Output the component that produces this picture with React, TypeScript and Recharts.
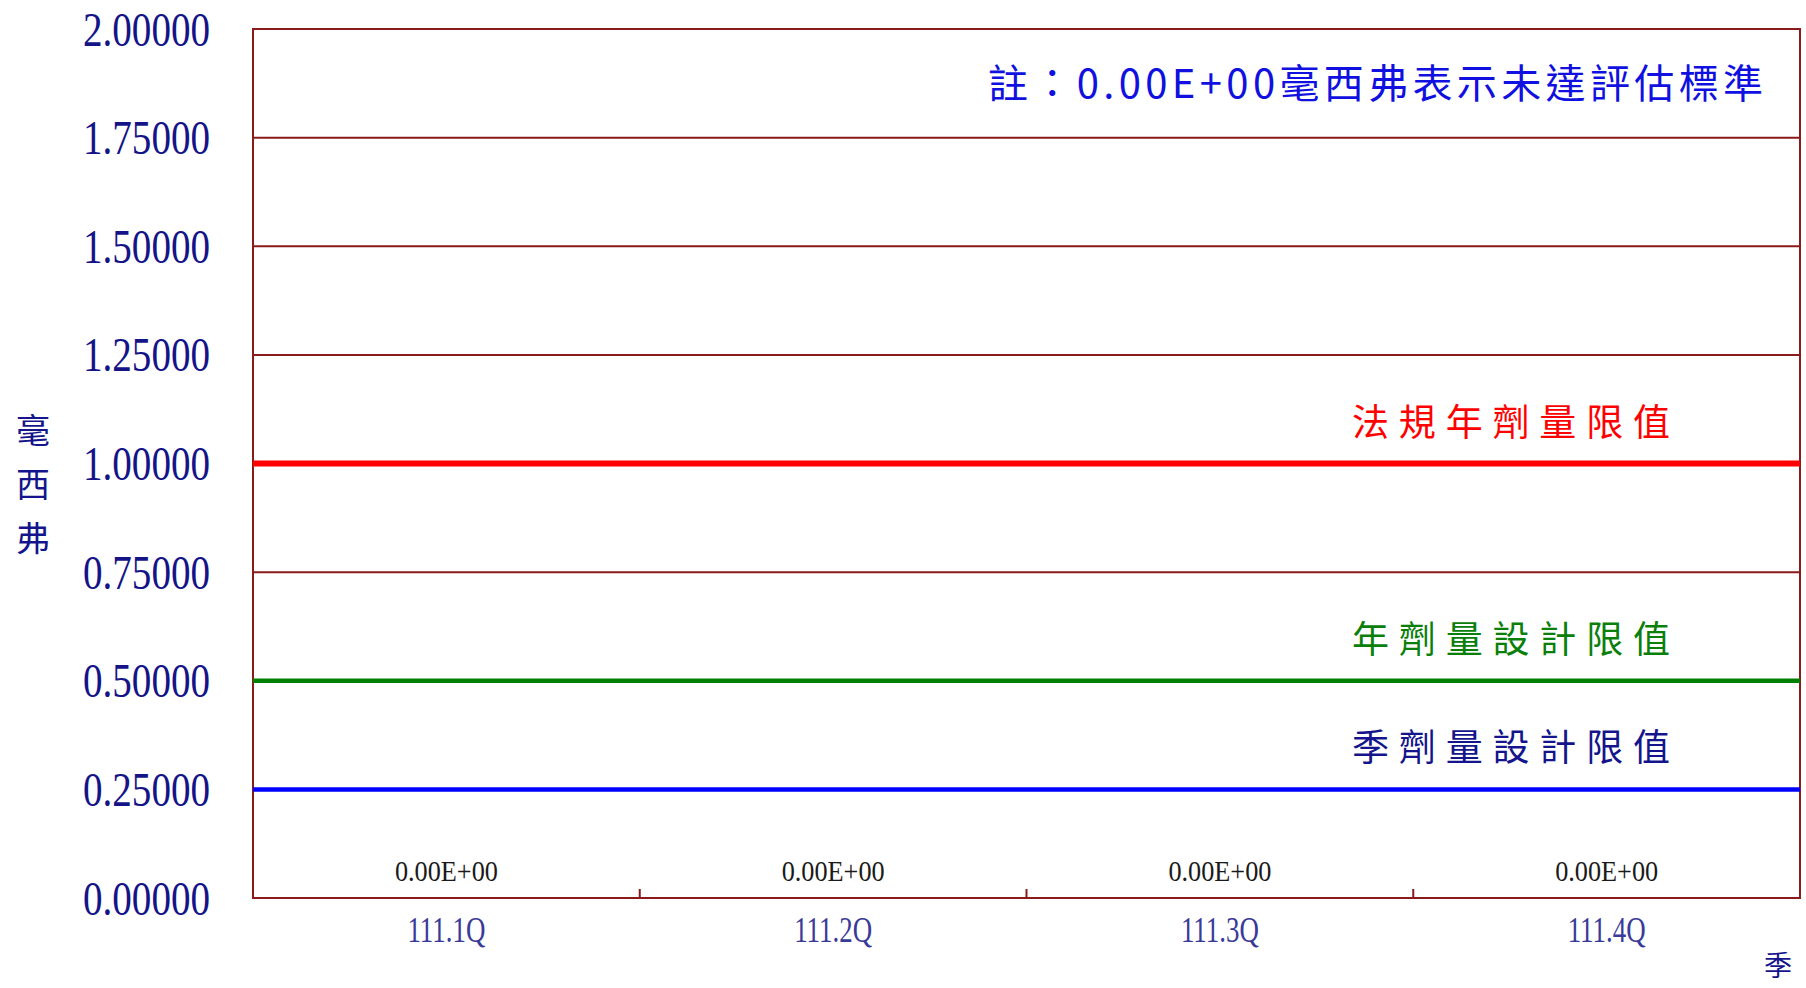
import {
  Bar,
  CartesianGrid,
  ComposedChart,
  LabelList,
  Line,
  ReferenceArea,
  ReferenceLine,
  XAxis,
  YAxis,
} from "recharts";

const quarters = ["111.1Q", "111.2Q", "111.3Q", "111.4Q"];
const doseValues = [0, 0, 0, 0];
const yTicks = [0, 0.25, 0.5, 0.75, 1, 1.25, 1.5, 1.75, 2];

const limitValues = [1, 0.5, 0.25];
const limitLabels = ["法規年劑量限值", "年劑量設計限值", "季劑量設計限值"];
const limitColors = ["#ff0000", "#008000", "#0000ff"];
const limitLabelColors = ["#ff0000", "#0a800a", "#14148c"];
const limitWidths = [6, 4.5, 4.5];

const noteText = "註：0.00E+00毫西弗表示未達評估標準";
const yTitle = ["毫", "西", "弗"];
const xTitle = "季";

const data = quarters.map((q, i) => ({ quarter: q, value: doseValues[i] }));

const W = 1806;
const H = 988;
const PLOT_LEFT = 253;
const PLOT_RIGHT = 6;
const BAND = (W - PLOT_LEFT - PLOT_RIGHT) / quarters.length;

const BORDER = "#8b1a1a";
const CJK = "'Noto Sans CJK TC', 'Noto Sans CJK SC', sans-serif";
const SERIF = "'Liberation Serif', 'DejaVu Serif', serif";

// Excel-style scientific notation: 0.00E+00
function sci(v: number) {
  if (v === 0) return "0.00E+00";
  const exp = Math.floor(Math.log10(Math.abs(v)));
  const mant = (v / Math.pow(10, exp)).toFixed(2);
  const sign = exp < 0 ? "-" : "+";
  return `${mant}E${sign}${String(Math.abs(exp)).padStart(2, "0")}`;
}

function YTick(props: any) {
  const { x, y, payload } = props;
  return (
    <text
      x={x}
      y={y}
      textAnchor="end"
      dominantBaseline="central"
      fontFamily={SERIF}
      fontSize={48}
      fill="#141488"
      textLength={127}
      lengthAdjust="spacingAndGlyphs"
    >
      {Number(payload.value).toFixed(5)}
    </text>
  );
}

function XTick(props: any) {
  const { x, y, payload, index } = props;
  return (
    <g>
      {index > 0 && (
        <line x1={x - BAND / 2} x2={x - BAND / 2} y1={y - 9} y2={y} stroke={BORDER} strokeWidth={2} />
      )}
      <text
        x={x}
        y={y + 32}
        textAnchor="middle"
        dominantBaseline="central"
        fontFamily={SERIF}
        fontSize={35}
        fill="#3a3a98"
        textLength={78}
        lengthAdjust="spacingAndGlyphs"
      >
        {payload.value}
      </text>
    </g>
  );
}

function ValueLabel(props: any) {
  const { x, y, width, value } = props;
  return (
    <text
      x={x + (width || 0) / 2}
      y={y - 28}
      textAnchor="middle"
      dominantBaseline="central"
      fontFamily={SERIF}
      fontSize={30}
      fill="#1a1a1a"
      textLength={103}
      lengthAdjust="spacingAndGlyphs"
    >
      {sci(Number(value))}
    </text>
  );
}

function limitLabel(i: number) {
  return (props: any) => {
    const { viewBox } = props;
    return (
      <text
        x={viewBox.x + viewBox.width - 448}
        y={viewBox.y - 44}
        dominantBaseline="central"
        fontFamily={CJK}
        fontSize={37}
        fill={limitLabelColors[i]}
        textLength={318}
        lengthAdjust="spacing"
      >
        {limitLabels[i]}
      </text>
    );
  };
}

export default function App() {
  return (
    <div style={{ position: "absolute", left: 0, top: 0, width: W, height: H, background: "#fff" }}>
      <ComposedChart width={W} height={H} data={data} margin={{ top: 29, right: PLOT_RIGHT, bottom: 0, left: 0 }}>
        <CartesianGrid vertical={false} stroke={BORDER} strokeWidth={2} />
        <ReferenceArea y1={0} y2={2} fill="none" stroke={BORDER} strokeWidth={2} />
        <XAxis
          dataKey="quarter"
          height={90}
          axisLine={false}
          tickLine={false}
          tickSize={0}
          tickMargin={0}
          interval={0}
          tick={<XTick />}
        />
        <YAxis
          width={PLOT_LEFT}
          domain={[0, 2]}
          ticks={yTicks}
          axisLine={false}
          tickLine={false}
          tickSize={0}
          tickMargin={43}
          interval={0}
          tick={<YTick />}
        />
        {limitValues.map((v, i) => (
          <ReferenceLine
            key={limitLabels[i]}
            y={v}
            stroke={limitColors[i]}
            strokeWidth={limitWidths[i]}
            label={limitLabel(i)}
          />
        ))}
        <Bar dataKey="value" fill="#3333cc" isAnimationActive={false} />
        <Line dataKey="value" stroke="none" dot={false} activeDot={false} isAnimationActive={false}>
          <LabelList dataKey="value" content={<ValueLabel />} />
        </Line>
      </ComposedChart>
      <svg width={W} height={H} style={{ position: "absolute", left: 0, top: 0, pointerEvents: "none" }}>
        <text
          x={988}
          y={81}
          dominantBaseline="central"
          fontFamily={CJK}
          fontSize={40}
          fill="#1010e0"
          textLength={775}
          lengthAdjust="spacing"
        >
          {noteText}
        </text>
        {yTitle.map((ch, i) => (
          <text
            key={ch}
            x={33}
            y={428 + i * 54}
            textAnchor="middle"
            dominantBaseline="central"
            fontFamily={CJK}
            fontSize={34}
            fill="#14148c"
          >
            {ch}
          </text>
        ))}
        <text x={1778} y={964} textAnchor="middle" dominantBaseline="central" fontFamily={CJK} fontSize={28} fill="#14148c">
          {xTitle}
        </text>
      </svg>
    </div>
  );
}
